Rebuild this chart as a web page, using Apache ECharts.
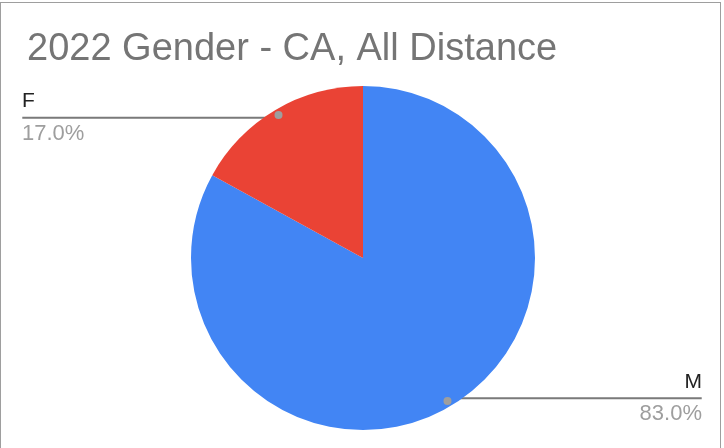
<!DOCTYPE html>
<html>
<head>
<meta charset="utf-8">
<script src="https://cdn.jsdelivr.net/npm/echarts@6/dist/echarts.min.js"></script>
<style>
  html, body { margin: 0; padding: 0; background: #fff; }
  #wrap { position: relative; width: 724px; height: 448px; overflow: hidden; }
  #chart { width: 724px; height: 448px; }
  .frame {
    position: absolute; left: 0; top: 2px; width: 721px; height: 470px;
    border: 1px solid #9e9e9e; box-sizing: border-box; pointer-events: none;
  }
</style>
</head>
<body>
<div id="wrap">
  <div id="chart"></div>
  <div class="frame"></div>
</div>
<script>
const titleText = '2022 Gender - CA, All Distance';
const categories = ['M', 'F'];
const values = [83, 17];
const colors = ['#4285F4', '#EA4335'];

const pieData = categories.map((name, i) => ({ name: name, value: values[i] }));
const center = [363, 258];
const font = '"Liberation Sans", Arial, sans-serif';

const myChart = echarts.init(document.getElementById('chart'), null, { renderer: 'canvas' });

const ghost = { color: 'rgba(0,0,0,0)' };

let option = {
  animation: false,
  textStyle: { fontFamily: font },
  title: {
    text: titleText,
    left: 22,
    top: 26,
    textStyle: { fontFamily: font, fontSize: 38, fontWeight: 'normal', color: '#757575' }
  },
  color: colors,
  series: [
    {
      // visible pie
      type: 'pie',
      center: center,
      radius: 172,
      startAngle: 90,
      clockwise: true,
      data: pieData,
      label: { show: false },
      labelLine: { show: false },
      emphasis: { disabled: true },
      silent: true
    },
    {
      // horizontal leader lines
      type: 'pie',
      center: center,
      radius: 162,
      startAngle: 90,
      data: pieData,
      itemStyle: ghost,
      silent: true,
      emphasis: { disabled: true },
      labelLayout: { hideOverlap: false },
      label: {
        show: true,
        position: 'outside',
        alignTo: 'edge',
        edgeDistance: 22,
        distanceToLabelLine: 0,
        formatter: ' ',
        fontSize: 1
      },
      labelLine: {
        show: true,
        length: 1,
        length2: 10,
        lineStyle: { color: '#7a7a7a', width: 2 }
      }
    },
    {
      // label text (invisible leader line keeps the same layout)
      type: 'pie',
      center: center,
      radius: 162,
      startAngle: 90,
      data: pieData,
      itemStyle: ghost,
      silent: true,
      emphasis: { disabled: true },
      labelLayout: { hideOverlap: false },
      label: {
        show: true,
        position: 'outside',
        alignTo: 'edge',
        edgeDistance: 22,
        formatter: (p) => '{n|' + p.name + '}\n{p|' + p.percent.toFixed(1) + '%}',
        rich: {
          n: { fontFamily: font, fontSize: 21, color: '#222222', lineHeight: 32 },
          p: { fontFamily: font, fontSize: 22, color: '#9e9e9e', lineHeight: 32 }
        }
      },
      labelLine: { show: true, length: 1, length2: 10, lineStyle: { color: 'rgba(0,0,0,0)' } }
    },
    {
      // dots at leader line start
      type: 'pie',
      center: center,
      radius: [154, 172],
      startAngle: 90,
      data: pieData,
      itemStyle: ghost,
      silent: true,
      emphasis: { disabled: true },
      label: {
        show: true,
        position: 'inside',
        formatter: '{d|}',
        rich: {
          d: { width: 8, height: 8, borderRadius: 4, backgroundColor: '#9e9e9e' }
        }
      },
      labelLine: { show: false }
    }
  ]
};

if (option && typeof option === 'object') {
  myChart.setOption(option);
}
window.addEventListener('resize', myChart.resize);
</script>
</body>
</html>
